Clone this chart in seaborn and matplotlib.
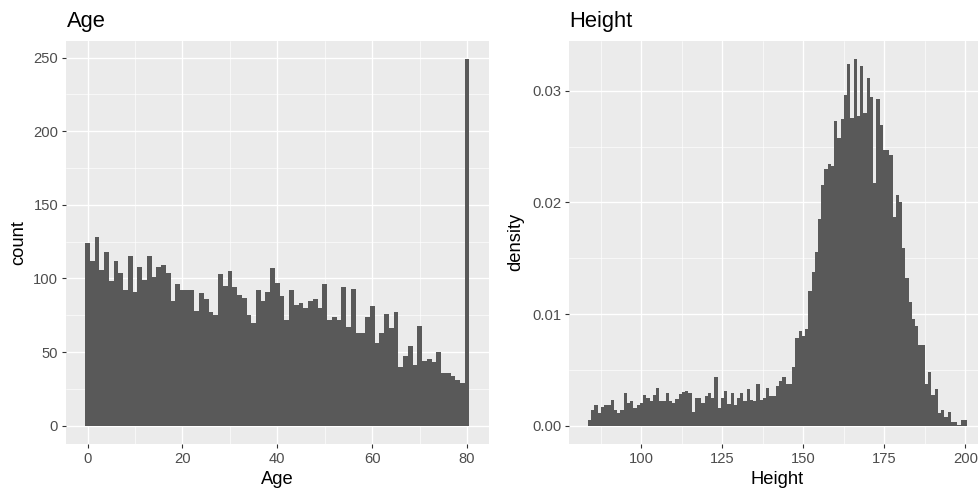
import numpy as np
import pandas as pd
import matplotlib
matplotlib.use("Agg")
import matplotlib.pyplot as plt
import seaborn as sns
from matplotlib.ticker import FixedLocator, FuncFormatter

# ---- data: one bin per year of age (counts) ----
age_years = list(range(0, 81))
age_counts = [
    124, 112, 128, 106, 118, 98, 112, 104, 92, 115,
    91, 108, 99, 115, 101, 108, 109, 104, 85, 96,
    92, 92, 92, 78, 90, 86, 77, 75, 103, 95,
    105, 94, 89, 87, 75, 70, 92, 85, 91, 107,
    97, 88, 72, 92, 82, 83, 80, 85, 86, 80,
    96, 72, 74, 72, 94, 67, 93, 63, 63, 74,
    81, 56, 63, 76, 66, 77, 40, 47, 54, 41,
    68, 44, 45, 43, 50, 36, 36, 34, 31, 29,
    249,
]

# ---- data: one bin per cm of height (density) ----
height_cm = list(range(84, 201))
height_density = [
    0.00050, 0.00140, 0.00185, 0.00113, 0.00167, 0.00185, 0.00185, 0.00230, 0.00140, 0.00113,  # 84-93
    0.00140, 0.00290, 0.00200, 0.00220, 0.00160, 0.00185, 0.00200, 0.00275, 0.00250, 0.00220,  # 94-103
    0.00275, 0.00340, 0.00220, 0.00220, 0.00290, 0.00220, 0.00200, 0.00240, 0.00280, 0.00300,  # 104-113
    0.00310, 0.00290, 0.00125, 0.00250, 0.00250, 0.00200, 0.00265, 0.00290, 0.00250, 0.00435,  # 114-123
    0.00160, 0.00250, 0.00310, 0.00190, 0.00290, 0.00185, 0.00250, 0.00290, 0.00220, 0.00330,  # 124-133
    0.00230, 0.00220, 0.00370, 0.00230, 0.00250, 0.00337, 0.00266, 0.00266, 0.00355, 0.00400,  # 134-143
    0.00436, 0.00373, 0.00373, 0.00525, 0.00785, 0.00848, 0.00803, 0.00866, 0.01206, 0.01376,  # 144-153
    0.01555, 0.01850, 0.02155, 0.02300, 0.02340, 0.02330, 0.02730, 0.02580, 0.02750, 0.02960,  # 154-163
    0.03240, 0.02760, 0.03280, 0.02770, 0.03220, 0.02800, 0.03110, 0.02940, 0.02170, 0.02930,  # 164-173
    0.02690, 0.02470, 0.02470, 0.02420, 0.01870, 0.02070, 0.02000, 0.01590, 0.01320, 0.01110,  # 174-183
    0.00955, 0.00890, 0.00720, 0.00720, 0.00370, 0.00480, 0.00275, 0.00330, 0.00110, 0.00140,  # 184-193
    0.00078, 0.00120, 0.00033, 0.00033, 0.00006, 0.00050, 0.00050,                             # 194-200
]

age_df = pd.DataFrame({"Age": age_years, "n": age_counts})
height_df = pd.DataFrame({"Height": height_cm, "d": height_density})

# ---- ggplot-like styling ----
sns.set_style("darkgrid", {
    "axes.facecolor": "#EBEBEB",
    "grid.color": "white",
    "axes.edgecolor": "none",
})
plt.rcParams["font.family"] = ["Liberation Sans", "DejaVu Sans"]

BAR = "#595959"
TICK_FS = 10.6
LAB_FS = 13.2
TITLE_FS = 15.8

W, H = 979, 491
fig = plt.figure(figsize=(W / 100, H / 100), dpi=100)

def px_axes(left, top, right, bottom):
    return fig.add_axes([left / W, 1 - bottom / H, (right - left) / W, (bottom - top) / H])

ax1 = px_axes(66, 40.7, 488.7, 444)
ax2 = px_axes(569, 40.7, 986, 444)

sns.histplot(data=age_df, x="Age", weights="n", binwidth=1, binrange=(-0.5, 80.5),
             stat="count", element="step", fill=True, color=BAR, alpha=1,
             linewidth=0, ax=ax1)
sns.histplot(data=height_df, x="Height", weights="d", binwidth=1, binrange=(83.5, 200.5),
             stat="count", element="step", fill=True, color=BAR, alpha=1,
             linewidth=0, ax=ax2)

ax1.set_xlim(-4.55, 84.55)
ax1.set_ylim(-12.45, 261.45)
ax1.xaxis.set_major_locator(FixedLocator([0, 20, 40, 60, 80]))
ax1.xaxis.set_minor_locator(FixedLocator([10, 30, 50, 70]))
ax1.yaxis.set_major_locator(FixedLocator([0, 50, 100, 150, 200, 250]))
ax1.yaxis.set_minor_locator(FixedLocator([25, 75, 125, 175, 225]))

ax2.set_xlim(77.65, 206.35)
ax2.set_ylim(-0.00164, 0.03448)
ax2.xaxis.set_major_locator(FixedLocator([100, 125, 150, 175, 200]))
ax2.xaxis.set_minor_locator(FixedLocator([87.5, 112.5, 137.5, 162.5, 187.5]))
ax2.yaxis.set_major_locator(FixedLocator([0, 0.01, 0.02, 0.03]))
ax2.yaxis.set_minor_locator(FixedLocator([0.005, 0.015, 0.025]))
ax2.yaxis.set_major_formatter(FuncFormatter(lambda v, p: f"{v:.2f}"))

for ax, xl, yl, title, ylab_x in [
    (ax1, "Age", "count", "Age", -0.092),
    (ax2, "Height", "density", "Height", -0.108),
]:
    ax.set_axisbelow(True)
    ax.grid(which="major", color="white", linewidth=0.95)
    ax.grid(which="minor", color="white", linewidth=0.45)
    for s in ax.spines.values():
        s.set_visible(False)
    ax.tick_params(which="major", length=3.0, width=0.8, color="#333333",
                   labelsize=TICK_FS, labelcolor="#4D4D4D", pad=2.6,
                   bottom=True, left=True)
    ax.tick_params(which="minor", length=0)
    ax.set_xlabel(xl, fontsize=LAB_FS, color="black")
    ax.set_ylabel(yl, fontsize=LAB_FS, color="black")
    ax.xaxis.set_label_coords(0.5, -0.066)
    ax.yaxis.set_label_coords(ylab_x, 0.5)
    pos = ax.get_position()
    fig.text(pos.x0 + 0.5 / W, 1 - 26.7 / H, title, fontsize=TITLE_FS,
             color="black", ha="left", va="baseline")

fig.savefig("out.png", dpi=100)
